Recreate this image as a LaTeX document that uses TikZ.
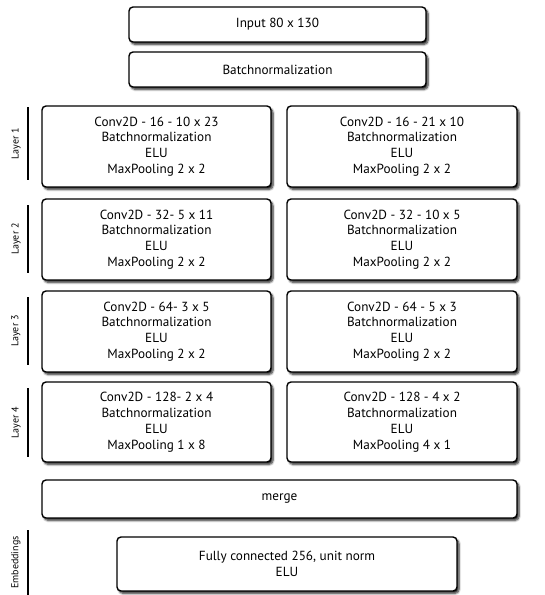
\documentclass[tikz,border=0pt]{standalone}
\usepackage{fontspec}
\setmainfont{PT Sans}
\usetikzlibrary{shadows,shadows.blur}
\begin{document}
\begin{tikzpicture}[x=1pt,y=-1pt,
  box/.style={draw=black, line width=1.4pt, rounded corners=4pt, fill=white,
    align=center, font=\fontsize{13.2}{15.8}\selectfont, inner sep=0pt,
    blur shadow={shadow xshift=2pt, shadow yshift=-2.5pt, shadow blur steps=6, shadow blur radius=2pt, shadow opacity=85}},
  bar/.style={line width=2.6pt, black},
  lbl/.style={rotate=90, font=\fontsize{10}{12}\selectfont, inner sep=0pt}]
\useasboundingbox (0,0) rectangle (545,595);
\node[box, minimum width=297pt, minimum height=35pt] (inp) at (277.5,24.5) {Input 80 x 130};
\node[box, minimum width=297pt, minimum height=35pt] (bn) at (277.5,69.5) {Batchnormalization};
% layer 1
\node[box, minimum width=229pt, minimum height=81pt] (l1a) at (156.5,146.5) {Conv2D - 16 - 10 x 23\\Batchnormalization\\ELU\\MaxPooling 2 x 2};
\node[box, minimum width=230pt, minimum height=81pt] (l1b) at (402,146.5) {Conv2D - 16 - 21 x 10\\Batchnormalization\\ELU\\MaxPooling 2 x 2};
% layer 2
\node[box, minimum width=229pt, minimum height=81pt] (l2a) at (156.5,239.5) {Conv2D - 32- 5 x 11\\Batchnormalization\\ELU\\MaxPooling 2 x 2};
\node[box, minimum width=230pt, minimum height=81pt] (l2b) at (402,239.5) {Conv2D - 32 - 10 x 5\\Batchnormalization\\ELU\\MaxPooling 2 x 2};
% layer 3
\node[box, minimum width=229pt, minimum height=81pt] (l3a) at (156.5,331.5) {Conv2D - 64- 3 x 5\\Batchnormalization\\ELU\\MaxPooling 2 x 2};
\node[box, minimum width=230pt, minimum height=81pt] (l3b) at (402,331.5) {Conv2D - 64 - 5 x 3\\Batchnormalization\\ELU\\MaxPooling 2 x 2};
% layer 4
\node[box, minimum width=229pt, minimum height=80pt] (l4a) at (156.5,422) {Conv2D - 128- 2 x 4\\Batchnormalization\\ELU\\MaxPooling 1 x 8};
\node[box, minimum width=230pt, minimum height=80pt] (l4b) at (402,422) {Conv2D - 128 - 4 x 2\\Batchnormalization\\ELU\\MaxPooling 4 x 1};
% merge
\node[box, minimum width=475pt, minimum height=38pt] (merge) at (279.5,499) {merge};
% embeddings
\node[box, minimum width=340pt, minimum height=54pt] (emb) at (287,564) {Fully connected 256, unit norm\\ELU};
% bars and labels
\draw[bar] (28,107) -- (28,180);
\node[lbl] (t1) at (16,143.5) {Layer 1};
\draw[bar] (28,205) -- (28,273);
\node[lbl] (t2) at (16,239) {Layer 2};
\draw[bar] (28,297) -- (28,365);
\node[lbl] (t3) at (16,331) {Layer 3};
\draw[bar] (28,388) -- (28,457);
\node[lbl] (t4) at (16,422.5) {Layer 4};
\draw[bar] (28,530) -- (28,595);
\node[lbl] (t5) at (16,562.5) {Embeddings};
\end{tikzpicture}
\end{document}
